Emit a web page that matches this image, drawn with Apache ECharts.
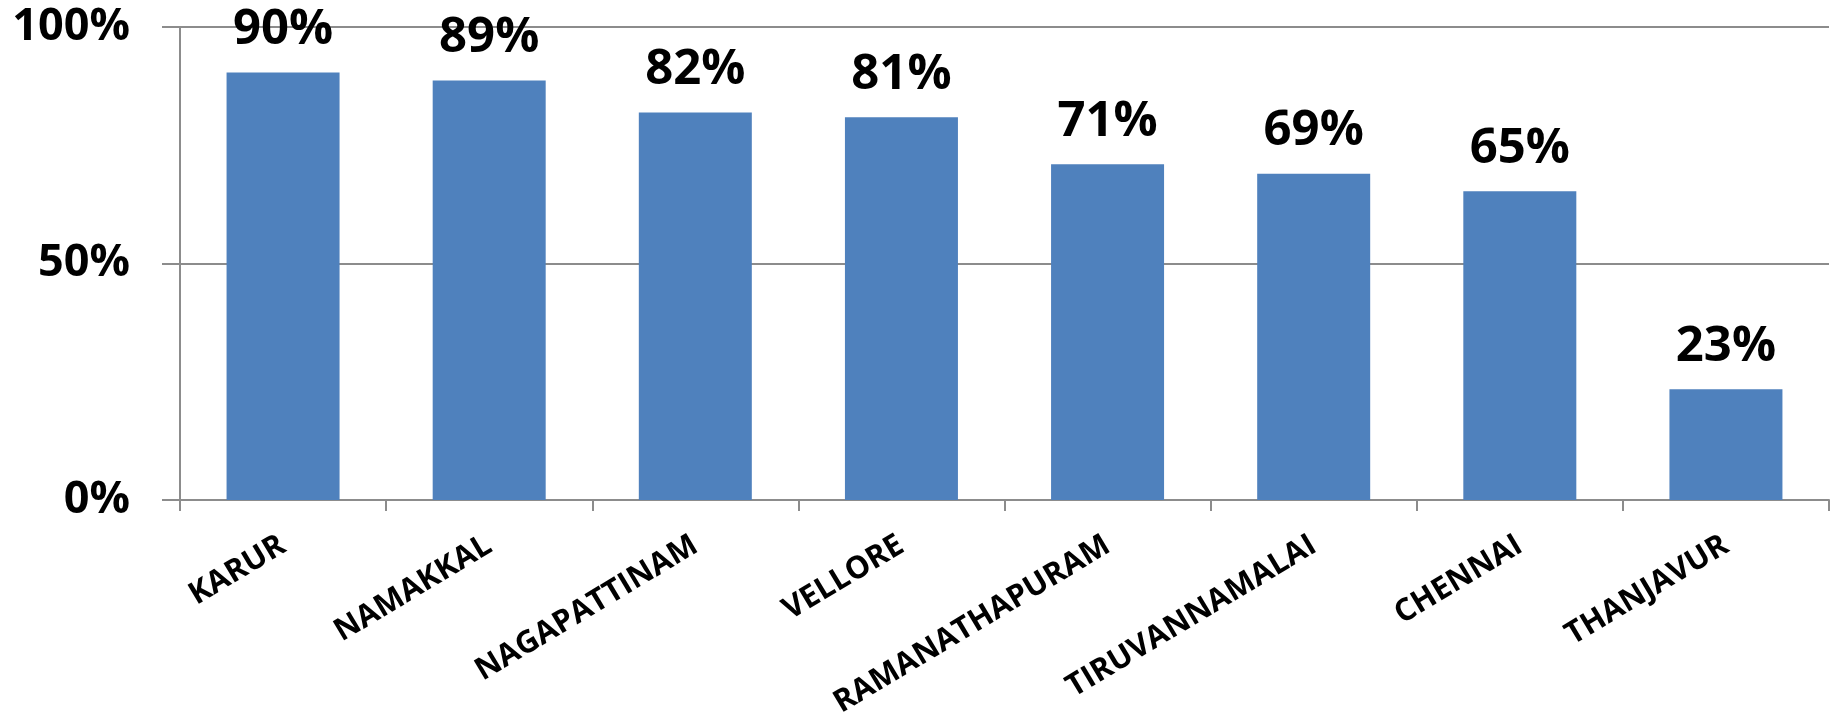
<!DOCTYPE html>
<html>
<head>
<meta charset="utf-8">
<script src="https://cdn.jsdelivr.net/npm/echarts@6/dist/echarts.min.js"></script>
<style>
  html, body { margin: 0; padding: 0; background: #fff; }
  #chart { width: 1837px; height: 728px; }
</style>
</head>
<body>
<div id="chart"></div>
<script>
// districts on the x axis
const districts = ['KARUR', 'NAMAKKAL', 'NAGAPATTINAM', 'VELLORE', 'RAMANATHAPURAM', 'TIRUVANNAMALAI', 'CHENNAI', 'THANJAVUR']
// share in percent
const shares = [90.4, 88.7, 81.9, 80.9, 71.0, 69.0, 65.3, 23.4]
// y axis ticks
const yTicks = [0, 50, 100]

const font = 'Open Sans'
const gray = '#8c8c8c'

const chart = echarts.init(document.getElementById('chart'))
chart.setOption({
  animation: false,
  grid: { left: 180, right: 8, top: 27, bottom: 228, outerBoundsMode: 'none' },
  xAxis: {
    type: 'category',
    data: districts,
    axisLine: { lineStyle: { color: gray, width: 2 } },
    axisTick: { show: true, length: 11, lineStyle: { color: gray, width: 2 } },
    axisLabel: {
      rotate: 31,
      margin: 43,
      interval: 0,
      fontFamily: font,
      fontWeight: 'bold',
      fontSize: 31,
      color: '#000'
    }
  },
  yAxis: {
    type: 'value',
    min: yTicks[0],
    max: yTicks[yTicks.length - 1],
    interval: 50,
    axisLine: { show: true, lineStyle: { color: gray, width: 2 } },
    axisTick: { show: true, length: 18, lineStyle: { color: gray, width: 2 } },
    splitLine: { lineStyle: { color: gray, width: 2 } },
    axisLabel: {
      margin: 50,
      fontFamily: font,
      fontWeight: 'bold',
      fontSize: 45,
      color: '#000',
      formatter: v => v + '%'
    }
  },
  series: [
    {
      type: 'bar',
      data: shares,
      barWidth: 113,
      itemStyle: { color: '#4f81bd' },
      label: {
        show: true,
        position: 'top',
        distance: 18,
        fontFamily: font,
        fontWeight: 'bold',
        fontSize: 49,
        color: '#000',
        formatter: p => Math.round(p.value) + '%'
      }
    }
  ]
})
</script>
</body>
</html>
